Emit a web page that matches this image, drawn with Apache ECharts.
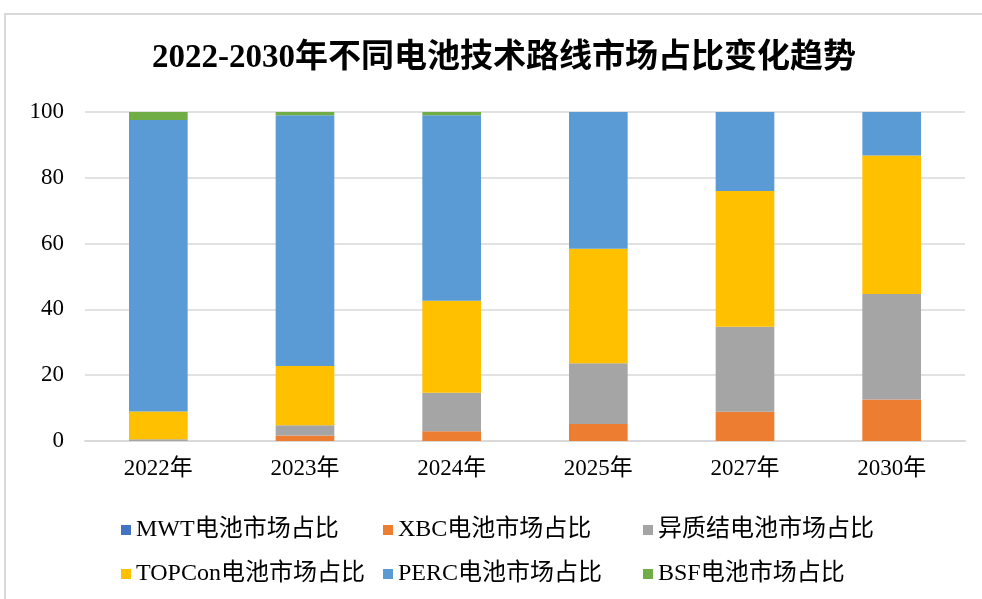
<!DOCTYPE html>
<html>
  <head>
    <meta charset="utf-8" />
    <title>ECharts</title>
    <script src="https://cdn.jsdelivr.net/npm/echarts@6/dist/echarts.min.js"></script>
    <style>
      body { margin: 0; background: #fff; }
    </style>
  </head>
  <body>
    <div id="main" style="width: 982px;height:599px;"></div>
    <script type="text/javascript">
// 数据
const years = ['2022年', '2023年', '2024年', '2025年', '2027年', '2030年'];
const seriesNames = ['MWT电池市场占比', 'XBC电池市场占比', '异质结电池市场占比', 'TOPCon电池市场占比', 'PERC电池市场占比', 'BSF电池市场占比'];
const mwt = [0, 0, 0, 0, 0, 0];
const xbc = [0, 1.7, 3, 5.2, 8.9, 12.6];
const hjt = [0.5, 3.1, 11.7, 18.4, 25.8, 32.1];
const topcon = [8.5, 18, 27.9, 34.8, 41.3, 42.1];
const perc = [88.6, 76.2, 56.4, 41.6, 24, 13.2];
const bsf = [2.4, 1, 1, 0, 0, 0];
const colors = ['#4472C4', '#ED7D31', '#A5A5A5', '#FFC000', '#5B9BD5', '#70AD47'];

const allData = [mwt, xbc, hjt, topcon, perc, bsf];
const fontFam = "'Liberation Serif', 'Noto Sans CJK SC', serif";

var myChart = echarts.init(document.getElementById('main'));

// 图例位置：两行三列
const legendLeft = [116, 378, 638];
const legendTop = [513, 557];
const legends = seriesNames.map(function (name, i) {
  return {
    data: [name],
    left: legendLeft[i % 3],
    top: legendTop[Math.floor(i / 3)],
    itemWidth: 10,
    itemHeight: 10,
    itemGap: 0,
    icon: 'rect',
    selectedMode: false,
    textStyle: { fontSize: 24, color: '#000', fontFamily: fontFam }
  };
});

var option = {
  animation: false,
  color: colors,
  title: {
    text: '2022-2030年不同电池技术路线市场占比变化趋势',
    left: 147,
    top: 37,
    textStyle: { fontSize: 33, fontWeight: 'bold', color: '#000', fontFamily: fontFam }
  },
  legend: legends,
  grid: { left: 85, right: 17, top: 112, bottom: 158 },
  xAxis: {
    type: 'category',
    data: years,
    axisLine: { lineStyle: { color: '#d9d9d9', width: 2 } },
    axisTick: { show: false },
    axisLabel: { fontSize: 23, color: '#000', margin: 16, fontFamily: fontFam }
  },
  yAxis: {
    type: 'value',
    min: 0,
    max: 100,
    interval: 20,
    axisLine: { show: false },
    axisTick: { show: false },
    splitLine: { lineStyle: { color: '#d9d9d9', width: 1.5 } },
    axisLabel: { fontSize: 23, color: '#000', margin: 21, fontFamily: fontFam }
  },
  series: seriesNames.map(function (name, i) {
    return {
      name: name,
      type: 'bar',
      stack: 'total',
      barWidth: '40%',
      data: allData[i]
    };
  }),
  graphic: [
    {
      type: 'polyline',
      shape: { points: [[5, 600], [5, 14], [982, 14]] },
      style: { stroke: '#d9d9d9', lineWidth: 2, fill: null }
    }
  ]
};

myChart.setOption(option);
    </script>
  </body>
</html>
